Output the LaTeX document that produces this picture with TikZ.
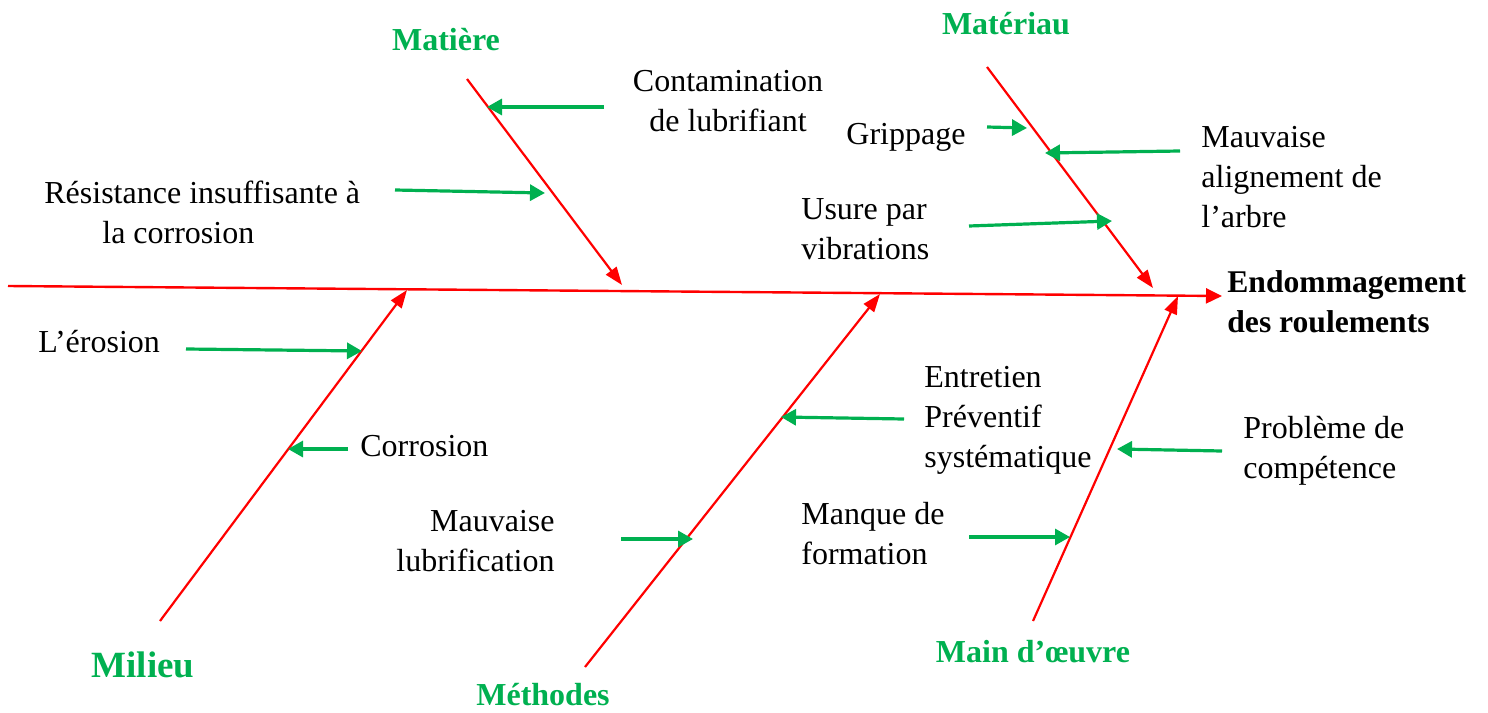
\documentclass[tikz,border=0pt]{standalone}
\usepackage{fontspec}
\setmainfont{Liberation Serif}
\usetikzlibrary{arrows.meta}
\definecolor{cgreen}{RGB}{0,176,80}
\definecolor{cred}{RGB}{255,0,0}
\begin{document}
\begin{tikzpicture}[x=0.5pt,y=-0.5pt,
  txt/.style={inner sep=0pt, font=\fontsize{16}{20}\selectfont},
  head/.style={inner sep=0pt, text=cgreen, font=\fontsize{16}{20}\selectfont\bfseries},
  effectbox/.style={inner sep=0pt, font=\fontsize{15.8}{20}\selectfont\bfseries},
  spine/.style={draw=cred, line width=1.2pt, -{Triangle[length=8pt,width=7.5pt]}},
  bone/.style={draw=cred, line width=1.1pt, -{Triangle[length=9pt,width=6.5pt]}},
  cause/.style={draw=cgreen, line width=1.6pt, -{Triangle[length=7.5pt,width=8pt]}}]
\useasboundingbox (0,0) rectangle (1488,712);

% spine
\coordinate (s0) at (8,286);
\coordinate (s1) at (1222,296);
\draw[spine] (s0) -- (s1);

% bones
\coordinate (b1a) at (467,79);   \coordinate (b1b) at (622,285);
\coordinate (b2a) at (987,67);   \coordinate (b2b) at (1153,288);
\coordinate (b3a) at (160,621);  \coordinate (b3b) at (407,290);
\coordinate (b4a) at (585,667);  \coordinate (b4b) at (880,294);
\coordinate (b5a) at (1033,621); \coordinate (b5b) at (1178,296);
\draw[bone] (b1a) -- (b1b);
\draw[bone] (b2a) -- (b2b);
\draw[bone] (b3a) -- (b3b);
\draw[bone] (b4a) -- (b4b);
\draw[bone] (b5a) -- (b5b);

% headings
\node[head] (matiere) at (446,40) {Matière};
\node[head] (materiau) at (1006,24) {Matériau};
\node[head, font=\fontsize{18.5}{22}\selectfont\bfseries] (milieu) at (143,665) {Milieu};
\node[head] (methodes) at (543,695) {Méthodes};
\node[head] (maindo) at (1033,652) {Main d’œuvre};

% effect
\node[effectbox, align=left, anchor=west] (effect) at (1227,302) {Endommagement\\des roulements};

% causes
\node[txt, align=center] (contam) at (728,101) {Contamination\\de lubrifiant};
\node[txt, align=left, anchor=west] (resist) at (44,212) {Résistance insuffisante à\\\hspace*{29pt}la corrosion};
\node[txt, anchor=west] (gripp) at (846,137) {Grippage};
\node[txt, align=left, anchor=west] (alignt) at (1201,177) {Mauvaise\\alignement de\\l’arbre};
\node[txt, align=left, anchor=west] (usure) at (801,229) {Usure par\\vibrations};
\node[txt, anchor=west] (erosion) at (38,342) {L’érosion};
\node[txt, anchor=west] (corr) at (360,446) {Corrosion};
\node[txt, align=left, anchor=west] (entr) at (924,420) {Entretien\\Préventif\\systématique};
\node[txt, align=left, anchor=west] (compet) at (1243,451) {Problème de\\compétence};
\node[txt, align=right, anchor=east] (lubr) at (555,541) {Mauvaise\\lubrification};
\node[txt, align=left, anchor=west] (formation) at (801,534) {Manque de\\formation};

% cause arrows
\coordinate (c1a) at (604,107);  \coordinate (c1b) at (487,107);
\coordinate (c2a) at (395,190);  \coordinate (c2b) at (545,193);
\coordinate (c3a) at (987,127);  \coordinate (c3b) at (1027,128);
\coordinate (c4a) at (1180,151); \coordinate (c4b) at (1045,153);
\coordinate (c5a) at (969,226);  \coordinate (c5b) at (1112,221);
\coordinate (c6a) at (186,349);  \coordinate (c6b) at (362,351);
\coordinate (c7a) at (348,449);  \coordinate (c7b) at (288,449);
\coordinate (c8a) at (904,419);  \coordinate (c8b) at (781,417);
\coordinate (c9a) at (1222,451); \coordinate (c9b) at (1117,449);
\coordinate (c10a) at (621,539); \coordinate (c10b) at (693,539);
\coordinate (c11a) at (969,537); \coordinate (c11b) at (1070,537);
\foreach \i in {1,...,11} {\draw[cause] (c\i a) -- (c\i b);}
\end{tikzpicture}
\end{document}
